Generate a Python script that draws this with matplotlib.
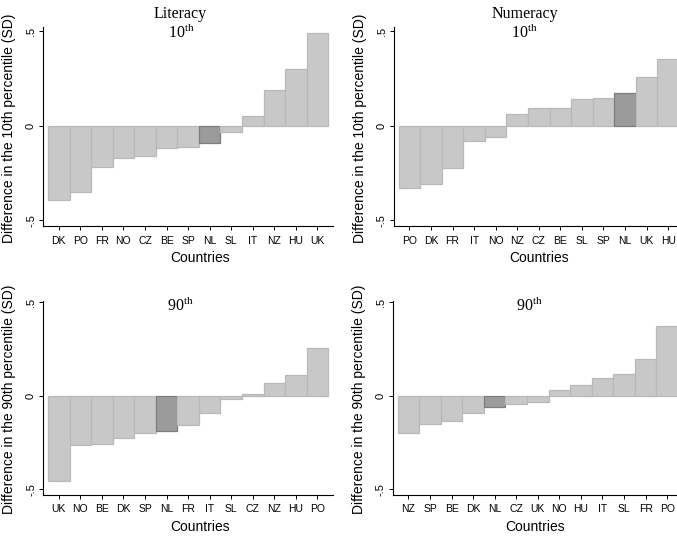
import matplotlib
matplotlib.use("Agg")
import matplotlib.pyplot as plt

plt.rcParams['font.family'] = ['Liberation Sans', 'DejaVu Sans']
plt.rcParams['mathtext.fontset'] = 'custom'
plt.rcParams['mathtext.rm'] = 'Liberation Serif'

# Literacy, 10th percentile
lit10_countries = ["DK", "PO", "FR", "NO", "CZ", "BE", "SP", "NL", "SL", "IT", "NZ", "HU", "UK"]
lit10_values = [-0.39, -0.35, -0.22, -0.17, -0.16, -0.12, -0.11, -0.09, -0.035, 0.05, 0.19, 0.30, 0.49]

# Numeracy, 10th percentile
num10_countries = ["PO", "DK", "FR", "IT", "NO", "NZ", "CZ", "BE", "SL", "SP", "NL", "UK", "HU"]
num10_values = [-0.33, -0.31, -0.225, -0.08, -0.06, 0.06, 0.095, 0.095, 0.143, 0.148, 0.173, 0.26, 0.353]

# Literacy, 90th percentile
lit90_countries = ["UK", "NO", "BE", "DK", "SP", "NL", "FR", "IT", "SL", "CZ", "NZ", "HU", "PO"]
lit90_values = [-0.455, -0.265, -0.256, -0.224, -0.198, -0.187, -0.158, -0.091, -0.016, 0.011, 0.069, 0.114, 0.256]

# Numeracy, 90th percentile
num90_countries = ["NZ", "SP", "BE", "DK", "NL", "CZ", "UK", "NO", "HU", "IT", "SL", "FR", "PO"]
num90_values = [-0.199, -0.15, -0.133, -0.094, -0.06, -0.043, -0.032, 0.032, 0.058, 0.098, 0.117, 0.196, 0.376]

W, H = 677, 536
fig = plt.figure(figsize=(W / 100, H / 100), dpi=100)


def px(x, y):
    return x / W, 1 - y / H


def panel(left, top, bottom, countries, values, ylabel, ylim, xlab_x):
    x0, y0 = px(left, bottom)
    ax = fig.add_axes([x0, y0, 290 / W, (bottom - top) / H])
    colors = ['#9b9b9b' if c == "NL" else '#c8c8c8' for c in countries]
    edges = ['#7d7d7d' if c == "NL" else '#b9b9b9' for c in countries]
    ax.bar(range(len(countries)), values, width=1.0, color=colors,
           edgecolor=edges, linewidth=0.9)
    ax.set_xlim(-0.73, 12.72)
    ax.set_ylim(*ylim)
    ax.set_xticks(range(len(countries)))
    ax.set_xticklabels(countries)
    ax.set_yticks([-0.5, 0, 0.5])
    ax.set_yticklabels(["-.5", "0", ".5"])
    for lab in ax.get_yticklabels():
        lab.set_rotation(90)
        lab.set_va('center')
    ax.tick_params(axis='x', length=3, width=0.7, labelsize=7.5, pad=4)
    ax.tick_params(axis='y', length=3, width=0.7, labelsize=8, pad=2)
    for s in ['top', 'right']:
        ax.spines[s].set_visible(False)
    for s in ['left', 'bottom']:
        ax.spines[s].set_linewidth(0.8)
    ax.set_xlabel("Countries", fontsize=10)
    ax.xaxis.set_label_coords(xlab_x, -32 / (bottom - top))
    ax.xaxis.label.set_va('center')
    ax.set_ylabel(ylabel, fontsize=10)
    ax.yaxis.set_label_coords(-34 / 290, 0.49)
    ax.yaxis.label.set_va('center')
    return ax


ylab10 = "Difference in the 10th percentile (SD)"
ylab90 = "Difference in the 90th percentile (SD)"

panel(43, 26.7, 226, lit10_countries, lit10_values, ylab10, (-0.53, 0.524), 0.54)
panel(393.7, 26.7, 226, num10_countries, num10_values, ylab10, (-0.53, 0.524), 0.50)
panel(43, 301, 494.7, lit90_countries, lit90_values, ylab90, (-0.529, 0.508), 0.54)
panel(392.7, 301, 494.7, num90_countries, num90_values, ylab90, (-0.529, 0.508), 0.49)

serif = ['Liberation Serif', 'DejaVu Serif']
titles = [("Literacy", 180, 14), ("10$^{\\rm th}$", 181, 33),
          ("Numeracy", 525, 14), ("10$^{\\rm th}$", 524, 33),
          ("90$^{\\rm th}$", 180, 306), ("90$^{\\rm th}$", 529, 306)]
for txt, x, y in titles:
    fx, fy = px(x, y)
    fig.text(fx, fy, txt, ha='center', va='center', fontsize=11.5, family=serif)

fig.savefig("out.png", dpi=100)
